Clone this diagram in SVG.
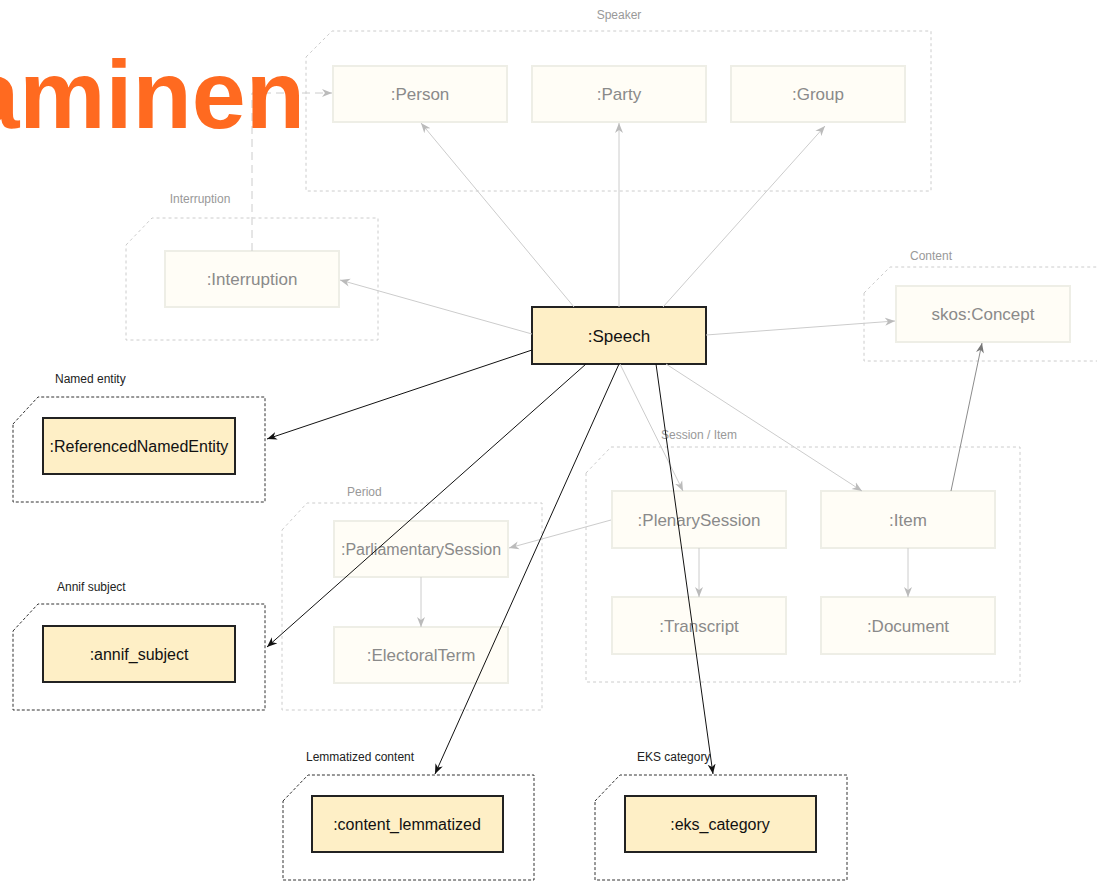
<svg xmlns="http://www.w3.org/2000/svg" width="1097" height="881" viewBox="0 0 1097 881">
<style>
.bg{fill:#ffffff}
.grp{fill:none;stroke:#cccccc;stroke-width:1;stroke-dasharray:3,3}
.grpk{fill:none;stroke:#333333;stroke-width:1;stroke-dasharray:3,2}
.glab{font-family:"Liberation Sans",Arial,sans-serif;font-size:12px;fill:#999999}
.klab{font-family:"Liberation Sans",Arial,sans-serif;font-size:12px;fill:#222222}
.ln{fill:#fffdf6;stroke:#eeeee6;stroke-width:2}
.ltx{font-family:"Liberation Sans",Arial,sans-serif;font-size:17px;fill:#8a8a8a;text-anchor:middle}
.kn{fill:#feefc6;stroke:#222222;stroke-width:2}
.ktx{font-family:"Liberation Sans",Arial,sans-serif;font-size:16px;fill:#111111;text-anchor:middle}
.cg{fill:none;stroke:#cccccc;stroke-width:1}
.cd{fill:none;stroke:#8c8c8c;stroke-width:1}
.ck{fill:none;stroke:#111111;stroke-width:1}
.title{font-family:"Liberation Sans",Arial,sans-serif;font-weight:bold;font-size:97px;fill:#ff6a20;text-anchor:end}
</style>
<defs>
<marker id="ag" markerWidth="12" markerHeight="10" refX="10" refY="5" orient="auto" markerUnits="userSpaceOnUse"><path d="M0,1 L10,5 L0,9 L3,5 Z" fill="#bbbbbb"/></marker>
<marker id="ad" markerWidth="12" markerHeight="10" refX="10" refY="5" orient="auto" markerUnits="userSpaceOnUse"><path d="M0,1 L10,5 L0,9 L3,5 Z" fill="#777777"/></marker>
<marker id="ak" markerWidth="12" markerHeight="10" refX="10" refY="5" orient="auto" markerUnits="userSpaceOnUse"><path d="M0,1 L10,5 L0,9 L3,5 Z" fill="#111111"/></marker>
</defs>
<rect class="bg" x="0" y="0" width="1097" height="881"/>

<g id="group-speaker">
<path class="grp" d="M306,57 L332,31 L931,31 L931,191 L306,191 Z"/>
<text class="glab" x="619" y="19" text-anchor="middle">Speaker</text>
</g>
<g id="group-interruption">
<path class="grp" d="M126,245 L152,218 L378,218 L378,340 L126,340 Z"/>
<text class="glab" x="200" y="203" text-anchor="middle">Interruption</text>
</g>
<g id="group-content">
<path class="grp" d="M864,293 L890,267 L1100,267 L1100,361 L864,361 Z"/>
<text class="glab" x="931" y="260" text-anchor="middle">Content</text>
</g>
<g id="group-named-entity">
<path class="grpk" d="M13,424 L38,397 L265,397 L265,502 L13,502 Z"/>
<text class="klab" x="55" y="383">Named entity</text>
</g>
<g id="group-annif">
<path class="grpk" d="M13,631 L38,604 L265,604 L265,710 L13,710 Z"/>
<text class="klab" x="57" y="591">Annif subject</text>
</g>
<g id="group-period">
<path class="grp" d="M282,530 L307,503 L542,503 L542,710 L282,710 Z"/>
<text class="glab" x="347" y="496">Period</text>
</g>
<g id="group-session-item">
<path class="grp" d="M586,473 L611,447 L1020,447 L1020,682 L586,682 Z"/>
<text class="glab" x="661" y="439">Session / Item</text>
</g>
<g id="group-lemmatized">
<path class="grpk" d="M283,801 L308,775 L534,775 L534,880 L283,880 Z"/>
<text class="klab" x="306" y="761">Lemmatized content</text>
</g>
<g id="group-eks">
<path class="grpk" d="M595,801 L620,775 L847,775 L847,880 L595,880 Z"/>
<text class="klab" x="637" y="761">EKS category</text>
</g>

<g id="node-person"><rect class="ln" x="333" y="66" width="174" height="56"/><text class="ltx" x="420" y="100">:Person</text></g>
<g id="node-party"><rect class="ln" x="532" y="66" width="174" height="56"/><text class="ltx" x="619" y="100">:Party</text></g>
<g id="node-group"><rect class="ln" x="731" y="66" width="174" height="56"/><text class="ltx" x="818" y="100">:Group</text></g>
<g id="node-interruption"><rect class="ln" x="165" y="251" width="174" height="56"/><text class="ltx" x="252" y="285">:Interruption</text></g>
<g id="node-concept"><rect class="ln" x="896" y="286" width="174" height="56"/><text class="ltx" x="983" y="320">skos:Concept</text></g>
<g id="node-parliamentarysession"><rect class="ln" x="334" y="521" width="174" height="56"/><text class="ltx" x="421" y="555" style="font-size:16px">:ParliamentarySession</text></g>
<g id="node-electoralterm"><rect class="ln" x="334" y="627" width="174" height="56"/><text class="ltx" x="421" y="661">:ElectoralTerm</text></g>
<g id="node-plenarysession"><rect class="ln" x="612" y="491" width="174" height="57"/><text class="ltx" x="699" y="526">:PlenarySession</text></g>
<g id="node-item"><rect class="ln" x="821" y="491" width="174" height="57"/><text class="ltx" x="908" y="526">:Item</text></g>
<g id="node-transcript"><rect class="ln" x="612" y="597" width="174" height="57"/><text class="ltx" x="699" y="632">:Transcript</text></g>
<g id="node-document"><rect class="ln" x="821" y="597" width="174" height="57"/><text class="ltx" x="908" y="632">:Document</text></g>

<g id="node-speech"><rect class="kn" x="532" y="307" width="174" height="57"/><text class="ktx" x="619" y="342" style="font-size:17px">:Speech</text></g>
<g id="node-referencednamedentity"><rect class="kn" x="43" y="418" width="192" height="56"/><text class="ktx" x="139" y="452">:ReferencedNamedEntity</text></g>
<g id="node-annif-subject"><rect class="kn" x="43" y="626" width="192" height="56"/><text class="ktx" x="139" y="660">:annif_subject</text></g>
<g id="node-content-lemmatized"><rect class="kn" x="312" y="796" width="191" height="56"/><text class="ktx" x="407" y="830">:content_lemmatized</text></g>
<g id="node-eks-category"><rect class="kn" x="625" y="796" width="191" height="56"/><text class="ktx" x="720" y="830">:eks_category</text></g>

<g id="connectors">
<path class="cg" d="M574,307 L421,123" marker-end="url(#ag)"/>
<path class="cg" d="M619,307 L619,123" marker-end="url(#ag)"/>
<path class="cg" d="M663,307 L825,126" marker-end="url(#ag)"/>
<path class="cg" d="M532,334 L340,280" marker-end="url(#ag)"/>
<path class="cg" d="M706,335 L895,321" marker-end="url(#ag)"/>
<path class="cg" d="M620,364 L683,491" marker-end="url(#ag)"/>
<path class="cg" d="M666,364 L862,491" marker-end="url(#ag)"/>
<path class="cg" d="M611,520 L509,548" marker-end="url(#ag)"/>
<path class="cg" d="M421,577 L421,627" marker-end="url(#ag)"/>
<path class="cg" d="M699,548 L699,597" marker-end="url(#ag)"/>
<path class="cg" d="M908,548 L908,597" marker-end="url(#ag)"/>
<path class="cd" d="M951,491 L982,343" marker-end="url(#ad)"/>
<path class="cg" d="M252,251 L252,93 L332,93" stroke-dasharray="8,5" marker-end="url(#ag)"/>
<path class="ck" d="M532,350 L267,439" marker-end="url(#ak)"/>
<path class="ck" d="M586,364 L267,647" marker-end="url(#ak)"/>
<path class="ck" d="M619,364 L435,774" marker-end="url(#ak)"/>
<path class="ck" d="M656,364 L713,774" marker-end="url(#ak)"/>
</g>

<text class="title" x="305" y="128">aminen</text>
</svg>
